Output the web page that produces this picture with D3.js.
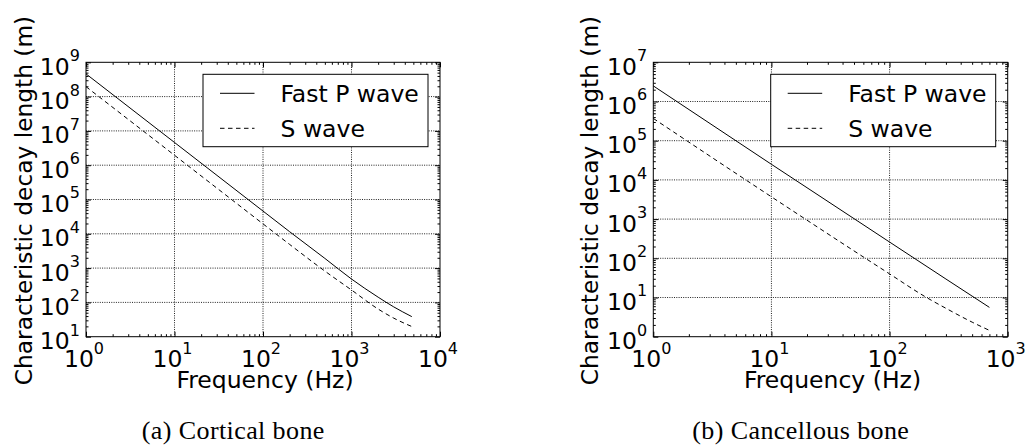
<!DOCTYPE html>
<html>
<head>
<meta charset="utf-8">
<script src="https://cdn.jsdelivr.net/npm/d3@7"></script>
<style>
  body { margin: 0; background: #fff; }
  svg text { font-family: "DejaVu Sans", sans-serif; fill: #000; }
  svg text.caption { font-family: "Liberation Serif", serif; }
</style>
</head>
<body>
<svg id="fig" width="1026" height="447"></svg>
<script>
// (a) Cortical bone: characteristic decay length vs frequency
const corticalFreq   = [1, 10, 100, 200, 500, 1000, 2000, 3000, 4800];
const corticalFastP  = [4.6e8, 4.6e6, 4.6e4, 1.15e4, 1.92e3, 480, 142, 74, 38.5];
const corticalS      = [1.95e8, 1.95e6, 1.95e4, 4.9e3, 819, 230, 64, 34.8, 19.8];
const corticalXExp   = [0, 1, 2, 3, 4];
const corticalYExp   = [1, 2, 3, 4, 5, 6, 7, 8, 9];

// (b) Cancellous bone
const cancellousFreqP  = [1, 10, 100, 300, 700];
const cancellousFastP  = [2.5e6, 2.5e4, 260, 29.6, 5.6];
const cancellousFreqS  = [1, 10, 100, 200, 300, 500, 700];
const cancellousS      = [3.7e5, 3.7e3, 40, 10.5, 5.3, 2.35, 1.45];
const cancellousXExp   = [0, 1, 2, 3];
const cancellousYExp   = [0, 1, 2, 3, 4, 5, 6, 7];

const legendLabels = ["Fast P wave", "S wave"];
const captions = ["(a) Cortical bone", "(b) Cancellous bone"];
const xLabel = "Frequency (Hz)";
const yLabel = "Characteristic decay length (m)";

const svg = d3.select("#fig");

function minorValues(exps) {
  const out = [];
  for (let e = exps[0]; e < exps[exps.length - 1]; e++)
    for (let k = 2; k <= 9; k++) out.push(k * Math.pow(10, e));
  return out;
}

function panel(opt) {
  const { left, right, top, bottom } = opt.box;
  const w = right - left, h = bottom - top;
  const xExp = opt.xExp, yExp = opt.yExp;
  const x = d3.scaleLog()
    .domain([Math.pow(10, xExp[0]), Math.pow(10, xExp[xExp.length - 1])])
    .range([0, w]);
  const y = d3.scaleLog()
    .domain([Math.pow(10, yExp[0]), Math.pow(10, yExp[yExp.length - 1])])
    .range([h, 0]);
  const xMajor = xExp.map(e => Math.pow(10, e));
  const yMajor = yExp.map(e => Math.pow(10, e));

  const g = svg.append("g").attr("transform", `translate(${left},${top})`);

  // dotted grid at the decades
  const grid = g.append("g")
    .attr("stroke", "#222").attr("stroke-width", 1)
    .attr("stroke-dasharray", "1,1.3").attr("fill", "none");
  grid.selectAll("line.gx").data(xMajor.slice(1, -1)).join("line")
    .attr("x1", d => x(d)).attr("x2", d => x(d)).attr("y1", 0).attr("y2", h);
  grid.selectAll("line.gy").data(yMajor.slice(1, -1)).join("line")
    .attr("x1", 0).attr("x2", w).attr("y1", d => y(d)).attr("y2", d => y(d));

  // curves
  const line = d3.line()
    .x(d => x(d[0])).y(d => y(d[1]))
    .curve(d3.curveMonotoneX);
  g.append("path")
    .datum(d3.zip(opt.freqP, opt.fastP))
    .attr("d", line).attr("fill", "none")
    .attr("stroke", "#000").attr("stroke-width", 1);
  g.append("path")
    .datum(d3.zip(opt.freqS, opt.sWave))
    .attr("d", line).attr("fill", "none")
    .attr("stroke", "#000").attr("stroke-width", 1)
    .attr("stroke-dasharray", "4.5,3.5");

  // ticks on all four sides, pointing inward
  const styleAxis = sel => {
    sel.select(".domain").remove();
    sel.selectAll("line").attr("stroke", "#000").attr("stroke-width", 1);
  };
  const majX = d3.axisBottom(x).tickValues(xMajor).tickFormat("").tickSize(-5);
  const minX = d3.axisBottom(x).tickValues(minorValues(xExp)).tickFormat("").tickSize(-2.5);
  const majY = d3.axisLeft(y).tickValues(yMajor).tickFormat("").tickSize(-5);
  const minY = d3.axisLeft(y).tickValues(minorValues(yExp)).tickFormat("").tickSize(-2.5);
  g.append("g").attr("transform", `translate(0,${h})`).call(majX).call(styleAxis);
  g.append("g").attr("transform", `translate(0,${h})`).call(minX).call(styleAxis);
  g.append("g").call(d3.axisTop(x).tickValues(xMajor).tickFormat("").tickSize(-5)).call(styleAxis);
  g.append("g").call(d3.axisTop(x).tickValues(minorValues(xExp)).tickFormat("").tickSize(-2.5)).call(styleAxis);
  g.append("g").call(majY).call(styleAxis);
  g.append("g").call(minY).call(styleAxis);
  g.append("g").attr("transform", `translate(${w},0)`)
    .call(d3.axisRight(y).tickValues(yMajor).tickFormat("").tickSize(-5)).call(styleAxis);
  g.append("g").attr("transform", `translate(${w},0)`)
    .call(d3.axisRight(y).tickValues(minorValues(yExp)).tickFormat("").tickSize(-2.5)).call(styleAxis);

  // frame
  g.append("rect").attr("width", w).attr("height", h)
    .attr("fill", "none").attr("stroke", "#000").attr("stroke-width", 1);

  // tick labels as powers of ten
  const xt = g.selectAll("text.xt").data(xExp).join("text")
    .attr("class", "xt")
    .attr("x", d => x(Math.pow(10, d)) - 2)
    .attr("y", h + 30)
    .attr("text-anchor", "middle")
    .attr("font-size", 23.5);
  xt.append("tspan").text("10");
  xt.append("tspan").attr("dy", -12.5).attr("font-size", 16).text(d => d);

  const yt = g.selectAll("text.yt").data(yExp).join("text")
    .attr("class", "yt")
    .attr("x", -6.2)
    .attr("y", d => y(Math.pow(10, d)) + 12.5)
    .attr("text-anchor", "end")
    .attr("font-size", 23.5);
  yt.append("tspan").text("10");
  yt.append("tspan").attr("dy", -13.5).attr("font-size", 16).text(d => d);

  // axis titles
  g.append("text")
    .attr("x", w / 2 + 2).attr("y", h + 51.6)
    .attr("text-anchor", "middle").attr("font-size", 23.5)
    .text(xLabel);
  g.append("text")
    .attr("transform", `translate(${opt.yLabelX - left},${h / 2 + 1}) rotate(-90)`)
    .attr("text-anchor", "middle").attr("font-size", 23.3)
    .text(yLabel);

  // legend
  const lg = g.append("g").attr("transform", `translate(${w - 12 - 225},12)`);
  lg.append("rect").attr("width", 225).attr("height", 72.4)
    .attr("fill", "#fff").attr("stroke", "#000").attr("stroke-width", 1);
  const rows = [{ dash: null, dy: 19 }, { dash: "4.5,3.5", dy: 54 }];
  rows.forEach((r, i) => {
    lg.append("line")
      .attr("x1", 17).attr("x2", 51.5).attr("y1", r.dy).attr("y2", r.dy)
      .attr("stroke", "#000").attr("stroke-width", 1)
      .attr("stroke-dasharray", r.dash);
    lg.append("text")
      .attr("x", 77.5).attr("y", r.dy + 8.4)
      .attr("font-size", 23.5)
      .text(legendLabels[i]);
  });

  // caption
  svg.append("text").attr("class", "caption")
    .attr("x", opt.captionX).attr("y", 439)
    .attr("text-anchor", "middle")
    .attr("font-size", 26).attr("letter-spacing", 0.4)
    .text(opt.caption);
}

panel({
  box: { left: 86, right: 440, top: 62.3, bottom: 336.7 },
  xExp: corticalXExp, yExp: corticalYExp,
  freqP: corticalFreq, fastP: corticalFastP,
  freqS: corticalFreq, sWave: corticalS,
  yLabelX: 31.5, captionX: 233.3, caption: captions[0]
});

panel({
  box: { left: 653.3, right: 1007.7, top: 62.3, bottom: 336.7 },
  xExp: cancellousXExp, yExp: cancellousYExp,
  freqP: cancellousFreqP, fastP: cancellousFastP,
  freqS: cancellousFreqS, sWave: cancellousS,
  yLabelX: 598, captionX: 800.8, caption: captions[1]
});
</script>
</body>
</html>
